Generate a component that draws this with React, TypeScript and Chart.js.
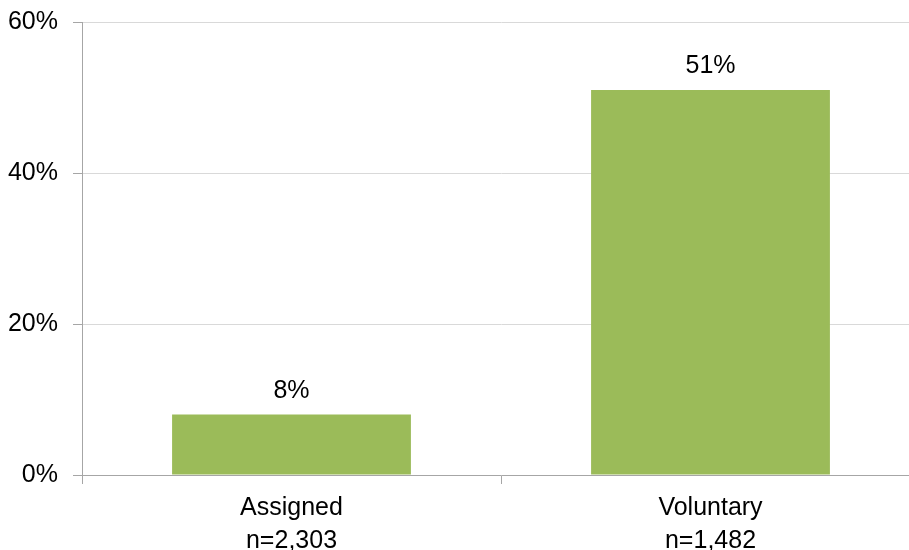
import React, { useEffect, useRef } from "react";
import { Chart, registerables } from "chart.js";

Chart.register(...registerables);

const categories: string[][] = [
  ["Assigned", "n=2,303"],
  ["Voluntary", "n=1,482"],
];
const values: number[] = [8, 51];
const yTicks: number[] = [0, 20, 40, 60];

const FONT = "'Liberation Sans', Arial, sans-serif";
const BAR = "#9BBB59";
const GRID = "#D9D9D9";
const AXIS = "#A6A6A6";

const valueLabels = {
  id: "valueLabels",
  afterDatasetsDraw(chart: any) {
    const ctx = chart.ctx;
    const meta = chart.getDatasetMeta(0);
    ctx.save();
    ctx.font = `25px ${FONT}`;
    ctx.fillStyle = "#000";
    ctx.textAlign = "center";
    ctx.textBaseline = "alphabetic";
    meta.data.forEach((bar: any, i: number) => {
      ctx.fillText(`${values[i]}%`, bar.x, bar.y - 17);
    });
    ctx.restore();
  },
};

export default function App() {
  const ref = useRef<HTMLCanvasElement>(null);
  useEffect(() => {
    if (!ref.current) return;
    const chart = new Chart(ref.current, {
      type: "bar",
      data: {
        labels: categories,
        datasets: [
          {
            data: values,
            backgroundColor: BAR,
            borderWidth: 0,
            categoryPercentage: 1,
            barPercentage: 0.57,
          },
        ],
      },
      options: {
        animation: false,
        responsive: true,
        maintainAspectRatio: false,
        layout: { padding: { top: 22, left: 0, right: 0, bottom: 0 } },
        plugins: { legend: { display: false }, tooltip: { enabled: false } },
        scales: {
          x: {
            offset: true,
            grid: {
              display: true,
              offset: true,
              drawOnChartArea: false,
              drawTicks: true,
              tickLength: 9,
              tickColor: AXIS,
            },
            border: { display: true, color: AXIS, width: 1 },
            ticks: {
              color: "#000",
              padding: 8,
              maxRotation: 0,
              font: { family: FONT, size: 25, lineHeight: 1.3 },
            },
          },
          y: {
            min: 0,
            max: 60,
            afterBuildTicks: (scale: any) => {
              scale.ticks = yTicks.map((v) => ({ value: v }));
            },
            afterFit: (scale: any) => {
              scale.width = 82;
              scale.paddingTop = 0;
              scale.paddingBottom = 0;
            },
            grid: {
              color: GRID,
              tickColor: AXIS,
              tickLength: 9,
              drawTicks: true,
            },
            border: { display: true, color: AXIS, width: 1 },
            ticks: {
              color: "#000",
              padding: 15,
              callback: (v: any) => `${v}%`,
              font: { family: FONT, size: 25 },
            },
          },
        },
      },
      plugins: [valueLabels],
    });
    return () => chart.destroy();
  }, []);
  return (
    <div
      style={{
        position: "fixed",
        left: 0,
        top: 0,
        width: 920,
        height: 565,
        background: "#fff",
      }}
    >
      <canvas ref={ref} />
    </div>
  );
}
